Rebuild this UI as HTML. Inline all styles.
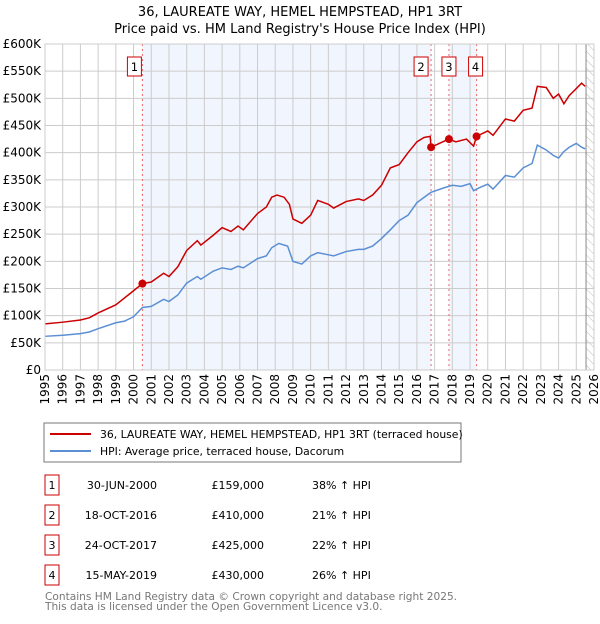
<!DOCTYPE html>
<html><head><meta charset="utf-8"><style>
body{margin:0;background:#fff;font-family:"DejaVu Sans","Liberation Sans",sans-serif;}
svg text{font-family:"DejaVu Sans","Liberation Sans",sans-serif;}
</style></head><body>
<svg id="c" width="600" height="620" xmlns="http://www.w3.org/2000/svg">
<defs><pattern id="hatch" width="6" height="6" patternUnits="userSpaceOnUse" patternTransform="rotate(-45)"><line x1="0" y1="0" x2="0" y2="6" stroke="#bbb" stroke-width="1"/></pattern></defs>
<text x="300" y="16" text-anchor="middle" font-size="13">36, LAUREATE WAY, HEMEL HEMPSTEAD, HP1 3RT</text>
<text x="300" y="33" text-anchor="middle" font-size="13">Price paid vs. HM Land Registry's House Price Index (HPI)</text>
<g id="plot"></g>
<rect x="44" y="423" width="417" height="39" fill="#fff" stroke="#777"/>
<line x1="50" y1="434" x2="91" y2="434" stroke="#cc0000" stroke-width="2"/>
<text x="100" y="438" font-size="10.8">36, LAUREATE WAY, HEMEL HEMPSTEAD, HP1 3RT (terraced house)</text>
<line x1="50" y1="451" x2="91" y2="451" stroke="#5b8fd4" stroke-width="2"/>
<text x="100" y="455" font-size="10.8">HPI: Average price, terraced house, Dacorum</text>
<g id="table" font-size="11"></g>
<text x="45" y="600" font-size="10.6" fill="#777">Contains HM Land Registry data © Crown copyright and database right 2025.</text>
<text x="45" y="610" font-size="10.6" fill="#777">This data is licensed under the Open Government Licence v3.0.</text>
</svg>
<script>
const hpiYears=[1995,1996,1997,1997.5,1998,1999,1999.5,2000,2000.5,2001,2001.7,2002,2002.5,2003,2003.6,2003.8,2004.5,2005,2005.5,2005.9,2006.2,2007,2007.5,2007.8,2008.2,2008.7,2009,2009.5,2010,2010.4,2011,2011.3,2012,2012.7,2013,2013.5,2014,2014.5,2015,2015.5,2016,2016.5,2016.8,2017.5,2018,2018.5,2019,2019.2,2019.5,2020,2020.3,2021,2021.5,2022,2022.5,2022.8,2023.3,2023.7,2024,2024.3,2024.6,2025,2025.3,2025.5];
const hpiValues=[62,64,67,70,76,87,90,98,115,117,130,126,138,160,172,167,182,188,185,191,188,205,210,225,233,228,200,195,210,216,212,210,218,222,222,228,242,258,275,285,308,320,327,335,340,338,343,330,335,342,333,358,355,372,380,414,405,395,390,402,410,417,410,407];
const redYears=[1995,1996,1997,1997.5,1998,1999,1999.7,2000.5,2001,2001.7,2002,2002.5,2003,2003.6,2003.8,2004.5,2005,2005.5,2005.9,2006.2,2007,2007.5,2007.8,2008.1,2008.5,2008.8,2009,2009.5,2010,2010.4,2011,2011.3,2012,2012.7,2013,2013.5,2014,2014.5,2015,2015.5,2016,2016.4,2016.75,2016.8,2017.8,2018.2,2018.8,2019.2,2019.37,2020,2020.3,2021,2021.5,2022,2022.5,2022.8,2023.3,2023.7,2024,2024.3,2024.6,2025,2025.3,2025.5];
const redValues=[85,88,92,96,105,120,138,159,162,178,172,190,220,238,230,248,262,255,265,258,288,300,318,322,318,305,278,270,285,312,305,298,310,315,312,322,340,372,378,400,420,428,430,410,425,420,425,412,430,440,432,462,458,478,482,522,520,500,508,490,505,518,528,522];
const sales=[{n:"1",t:2000.5,v:159,d:"30-JUN-2000",p:"£159,000",h:"38% ↑ HPI"},{n:"2",t:2016.8,v:410,d:"18-OCT-2016",p:"£410,000",h:"21% ↑ HPI"},{n:"3",t:2017.81,v:425,d:"24-OCT-2017",p:"£425,000",h:"22% ↑ HPI"},{n:"4",t:2019.37,v:430,d:"15-MAY-2019",p:"£430,000",h:"26% ↑ HPI"}];
const yTicks=[0,50,100,150,200,250,300,350,400,450,500,550,600];
const yLabels=["£0","£50K","£100K","£150K","£200K","£250K","£300K","£350K","£400K","£450K","£500K","£550K","£600K"];
const xTicks=[1995,1996,1997,1998,1999,2000,2001,2002,2003,2004,2005,2006,2007,2008,2009,2010,2011,2012,2013,2014,2015,2016,2017,2018,2019,2020,2021,2022,2023,2024,2025,2026];
const L=45,R=594,T=44,B=370,x0=1995,x1=2026,ymax=600,dataEnd=2025.55;
const X=t=>L+(t-x0)/(x1-x0)*(R-L);
const Y=v=>B-v/ymax*(B-T);
const NS="http://www.w3.org/2000/svg";
const g=document.getElementById('plot');
function mk(tag,attrs,parent){const e=document.createElementNS(NS,tag);for(const k in attrs)e.setAttribute(k,attrs[k]);(parent||g).appendChild(e);return e;}
let e;
e=mk('rect',{x:L,y:T,width:R-L,height:B-T,fill:'#fff'});


e=mk('rect',{x:X(sales[0].t),y:T,width:X(sales[1].t)-X(sales[0].t),height:B-T,fill:'#eef3fd',opacity:0.8});


e=mk('rect',{x:X(sales[2].t),y:T,width:X(sales[3].t)-X(sales[2].t),height:B-T,fill:'#eef3fd',opacity:0.8});


e=mk('rect',{x:X(dataEnd),y:T,width:R-X(dataEnd),height:B-T,fill:'url(#hatch)'});


yTicks.forEach((v,i)=>{
  e=mk('line',{x1:L,x2:R,y1:Y(v),y2:Y(v),stroke:'#ccc','stroke-width':1});
  
  
  e=mk('text',{x:L-4,y:Y(v)+4,'text-anchor':'end','font-size':12});
  e.textContent=yLabels[i];
  
  
});
xTicks.forEach(t=>{
  e=mk('line',{x1:X(t),x2:X(t),y1:T,y2:B,stroke:'#ccc','stroke-width':1});
  
  
  e=mk('text',{x:0,y:0,'text-anchor':'end','font-size':12,transform:`translate(${X(t)+4},${B+4}) rotate(-90)`});
  e.textContent=t;
  
  
});
e=mk('line',{x1:X(dataEnd),x2:X(dataEnd),y1:T,y2:B,stroke:'#888','stroke-width':1});


sales.forEach(s=>{
  e=mk('line',{x1:X(s.t),x2:X(s.t),y1:T,y2:B,stroke:'#e66','stroke-width':1,'stroke-dasharray':'2,3'});
  
  
});
e=mk('polyline',{points:hpiYears.map((t,i)=>X(t)+','+Y(hpiValues[i])).join(' '),fill:'none',stroke:'#5b8fd4','stroke-width':1.5});


e=mk('polyline',{points:redYears.map((t,i)=>X(t)+','+Y(redValues[i])).join(' '),fill:'none',stroke:'#cc0000','stroke-width':1.5});


sales.forEach((s,i)=>{
  e=mk('circle',{cx:X(s.t),cy:Y(s.v),r:4,fill:'#cc0000'});
  
  
  const bx=X(s.t)-(i==1?17:(i==0?15:9))+(i==2?2:0)-(i==3?-1:0);
  e=mk('rect',{x:bx,y:57,width:14,height:19,fill:'#fff',stroke:'#cc0000'});
  
  
  e=mk('text',{x:bx+7,y:71,'text-anchor':'middle','font-size':11.5});
  e.textContent=s.n;
  
  
});
e=mk('rect',{x:L,y:T,width:R-L,height:B-T,fill:'none',stroke:'#ccc'});


const tb=document.getElementById('table');
sales.forEach((s,i)=>{
  const y=475+i*30;
  e=mk('rect',{x:45,y:y,width:14,height:20,fill:'#fff',stroke:'#cc0000'},tb);
  
  
  e=mk('text',{x:52,y:y+14,'text-anchor':'middle'},tb);
  e.textContent=s.n;
  
  
  e=mk('text',{x:157,y:y+14,'text-anchor':'end'},tb);
  e.textContent=s.d;
  
  
  e=mk('text',{x:264,y:y+14,'text-anchor':'end'},tb);
  e.textContent=s.p;
  
  
  e=mk('text',{x:312,y:y+14},tb);
  e.textContent=s.h;
  
  
});
</script>
</body></html>
